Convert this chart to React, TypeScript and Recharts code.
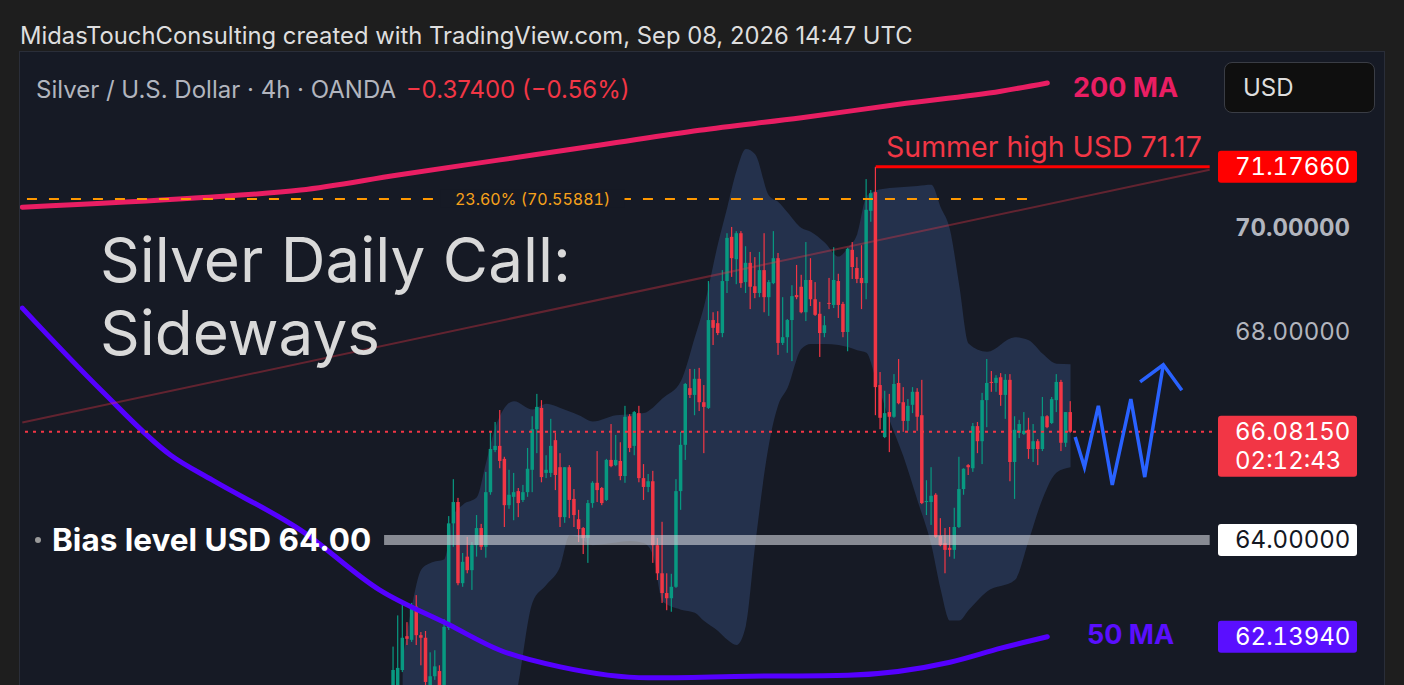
import React from 'react';
import {
  Area,
  Bar,
  ComposedChart,
  Line,
  ReferenceDot,
  ReferenceLine,
  XAxis,
  YAxis,
} from 'recharts';

const FONT = 'Inter, "Noto Sans", sans-serif';
const UP = '#089981';
const DOWN = '#f23645';
const NUM: React.CSSProperties = { fontVariantNumeric: 'tabular-nums' };

// 4h candles, index 0 = first visible candle
const opens = [
  61.02, 61.12, 61.5, 62.15, 62.08, 62.72, 62.17, 62.12, 61.02, 61.38,
  61.48, 61.12, 62.31, 64.32, 64.73, 63.17, 63.68, 63.42, 63.9, 64.23,
  63.87, 64.92, 65.73, 65.81, 65.56, 64.67, 64.83, 64.94, 64.77, 64.92,
  65.35, 66.13, 66.54, 65.29, 65.29, 65.92, 65.4, 64.44, 65.4, 64.79,
  64.4, 64.23, 64.04, 64.71, 65.1, 65.0, 64.77, 65.54, 65.44, 65.52,
  65.23, 66.38, 65.81, 66.44, 65.19, 65.02, 65.13, 63.9, 63.36, 62.98,
  62.88, 63.1, 64.94, 65.83, 66.92, 66.79, 67.1, 66.65, 66.54, 68.23,
  68.17, 67.98, 68.98, 69.83, 69.4, 69.9, 68.96, 69.33, 68.88, 68.75,
  69.19, 68.67, 68.94, 69.42, 67.79, 67.9, 68.23, 68.71, 68.87, 68.38,
  69.0, 68.63, 68.35, 67.98, 68.56, 68.52, 68.98, 68.54, 68.0, 69.58,
  69.23, 69.04, 68.94, 70.33, 70.69, 66.98, 65.98, 66.46, 66.37, 67.02,
  66.65, 66.29, 66.6, 66.85, 66.4, 64.73, 64.73, 64.87, 64.08, 63.94,
  63.85, 63.81, 64.25, 64.98, 65.44, 65.38, 66.19, 65.9, 66.69, 67.04,
  67.02, 67.13, 66.79, 67.08, 65.5, 66.06, 66.04, 66.12, 65.75, 65.9,
  65.75, 66.38, 66.25, 66.69, 67.04, 65.87, 66.46,
];
const highs = [
  61.95, 62.55, 62.81, 62.42, 62.79, 62.94, 62.23, 62.25, 61.84, 61.88,
  61.59, 62.48, 64.46, 65.17, 64.81, 63.75, 64.06, 63.96, 64.48, 64.31,
  65.31, 66.08, 66.27, 66.5, 65.6, 65.35, 65.29, 65.0, 65.06, 65.77,
  66.38, 66.81, 66.69, 65.63, 66.33, 66.06, 65.67, 65.4, 65.44, 64.98,
  64.58, 64.25, 64.77, 65.13, 65.71, 65.02, 65.56, 66.23, 66.02, 65.88,
  66.58, 66.42, 66.48, 66.58, 65.46, 65.27, 65.33, 64.04, 64.35, 63.36,
  63.35, 65.17, 66.08, 67.02, 67.29, 67.29, 67.31, 66.98, 68.98, 68.38,
  68.4, 69.19, 69.9, 70.02, 69.94, 69.94, 69.65, 69.54, 69.44, 69.54,
  69.9, 69.0, 69.94, 69.52, 68.67, 68.25, 68.9, 69.29, 69.1, 69.73,
  69.42, 68.96, 68.58, 68.31, 69.04, 69.63, 69.12, 68.58, 69.62, 69.73,
  69.44, 69.67, 70.94, 70.73, 71.1766, 67.23, 66.87, 66.81, 67.19, 67.48,
  66.94, 66.71, 66.94, 66.92, 67.08, 65.15, 65.4, 64.9, 64.42, 64.23,
  64.25, 64.62, 65.6, 65.38, 65.46, 66.25, 66.27, 66.83, 67.48, 67.25,
  67.17, 67.21, 67.19, 67.19, 66.38, 66.31, 66.46, 66.35, 66.23, 65.94,
  66.75, 66.4, 66.75, 67.19, 67.08, 66.46, 66.67,
];
const lows = [
  60.82, 60.92, 61.46, 61.98, 62.04, 61.98, 61.59, 60.92, 60.92, 61.31,
  60.92, 61.02, 62.27, 63.87, 63.13, 63.1, 63.36, 63.04, 63.68, 63.81,
  63.66, 64.87, 65.69, 65.38, 64.25, 64.6, 64.38, 64.44, 64.73, 64.83,
  64.92, 65.67, 65.11, 65.19, 65.21, 64.96, 64.25, 64.33, 64.42, 64.25,
  63.96, 63.73, 63.56, 64.62, 64.73, 64.67, 64.75, 65.4, 65.42, 65.15,
  65.1, 65.69, 65.63, 65.11, 64.77, 64.92, 63.56, 63.23, 62.79, 62.65,
  62.62, 63.08, 64.58, 65.54, 66.73, 66.4, 66.48, 65.67, 66.52, 67.75,
  67.94, 67.9, 68.75, 69.06, 68.92, 68.85, 68.75, 68.44, 68.65, 68.67,
  68.38, 68.31, 68.92, 67.56, 67.75, 67.6, 67.44, 68.63, 68.36, 68.21,
  68.5, 68.31, 67.52, 67.9, 68.44, 68.46, 68.27, 67.9, 67.63, 69.02,
  68.94, 68.44, 68.63, 70.12, 66.4, 66.13, 65.96, 65.69, 66.35, 66.61,
  66.08, 66.1, 66.44, 66.1, 64.69, 64.48, 64.29, 64.04, 63.88, 63.36,
  63.68, 63.64, 64.23, 64.87, 65.25, 65.31, 65.67, 65.46, 66.17, 66.85,
  66.85, 66.58, 66.33, 65.13, 64.79, 65.96, 66.02, 65.56, 65.5, 65.44,
  65.71, 66.15, 66.23, 66.46, 65.71, 65.79, 66.06,
];
const closes = [
  61.5, 61.54, 62.12, 62.1, 62.7, 62.17, 62.12, 61.27, 61.38, 61.57,
  61.12, 62.33, 64.32, 64.73, 63.17, 63.58, 63.42, 63.9, 64.23, 63.87,
  64.92, 65.75, 65.81, 65.52, 64.67, 64.87, 64.92, 64.71, 64.92, 65.37,
  66.13, 66.56, 65.21, 65.35, 65.81, 65.25, 64.44, 65.4, 64.77, 64.48,
  64.21, 64.04, 64.71, 65.1, 64.96, 64.71, 65.54, 65.42, 65.54, 65.23,
  66.37, 65.77, 66.46, 65.19, 65.02, 65.13, 63.9, 63.36, 62.98, 62.88,
  63.1, 64.94, 65.83, 67.0, 66.79, 67.1, 66.65, 66.56, 68.23, 68.08,
  67.98, 68.98, 69.81, 69.42, 69.9, 68.94, 69.33, 68.87, 68.75, 69.19,
  68.67, 68.96, 69.42, 67.79, 67.9, 68.23, 68.69, 68.67, 68.38, 69.0,
  68.63, 68.33, 67.98, 68.13, 68.54, 69.0, 68.52, 68.0, 69.6, 69.25,
  69.02, 68.94, 70.35, 70.67, 66.94, 66.35, 66.44, 66.37, 67.0, 66.63,
  66.29, 66.58, 66.85, 66.37, 64.71, 64.75, 64.85, 64.06, 63.9, 63.81,
  63.81, 64.25, 64.98, 65.37, 65.4, 66.19, 65.9, 66.69, 67.02, 67.02,
  67.12, 66.79, 67.08, 65.5, 66.12, 66.23, 66.1, 65.75, 65.9, 65.75,
  66.38, 66.17, 66.71, 67.04, 65.87, 66.46, 66.0815,
];

// moving averages (sampled)
const ma200Idx = [-80, -42, -20, 1, 23, 45, 66, 88, 109, 131, 141];
const ma200Val = [70.4, 70.58, 70.73, 71.02, 71.31, 71.6, 71.88, 72.12, 72.38, 72.63, 72.79];
const ma50Idx = [-80, -63, -48, -39, -20, -3, 12, 23, 36, 55, 77, 98, 120, 131, 141];
const ma50Val = [68.46, 66.88, 65.63, 65.15, 64.19, 63.04, 62.37, 61.88, 61.56, 61.35, 61.38, 61.4, 61.65, 61.92, 62.14];

// shaded envelope
const bandIdx = [2, 4, 6, 8, 11, 13, 15, 18, 20, 22, 26, 30, 33, 36, 38, 40, 43, 48, 51, 54, 56, 58, 62, 65, 67, 70, 72, 74, 76, 78, 81, 83, 85, 88, 90, 93, 96, 98, 100, 102, 104, 107, 110, 113, 116, 118, 120, 122, 124, 128, 134, 137, 140, 143, 146];
const bandHi = [61.7, 62.73, 63.43, 63.56, 63.63, 64.48, 64.68, 64.82, 65.49, 66.17, 66.67, 66.51, 66.62, 66.54, 66.47, 66.4, 66.28, 66.4, 66.42, 66.44, 66.55, 66.72, 67.06, 67.9, 68.5, 69.7, 70.4, 71.1, 71.52, 71.42, 70.62, 70.5, 70.3, 70.0, 69.93, 69.72, 69.45, 69.62, 69.88, 70.6, 70.72, 70.77, 70.79, 70.81, 70.83, 70.4, 69.97, 68.9, 67.78, 67.62, 67.9, 67.84, 67.58, 67.39, 67.38];
const bandLo = [60.5, 60.5, 60.5, 60.5, 60.5, 60.5, 60.5, 60.5, 60.5, 60.5, 60.9, 62.8, 63.14, 63.5, 64.09, 64.05, 63.9, 63.95, 63.98, 63.94, 63.7, 62.82, 62.66, 62.6, 62.44, 62.25, 62.08, 61.98, 62.35, 63.9, 65.85, 66.6, 66.93, 67.68, 67.77, 67.77, 67.75, 67.71, 67.65, 67.6, 67.1, 66.3, 65.6, 64.76, 63.9, 63.05, 62.45, 62.45, 62.65, 63.01, 63.23, 64.0, 64.8, 65.3, 65.4];

// projected path
const zzIdx = [147, 149, 152, 155, 159, 162, 166];
const zzVal = [65.98, 65.4, 66.58, 65.06, 66.71, 65.21, 67.37];
const arrowIdx = [161, 166, 170];
const arrowVal = [67.04, 67.37, 66.88];

const yTicks = [68, 70];
const summerHigh = 71.1766;
const lastPrice = 66.0815;
const biasLevel = 64;
const ma50Last = 62.1394;
const fibLevel = 70.55881;

const START = -80;
const END = 176;

const rows: any[] = [];
for (let i = START; i <= END; i++) rows.push({ i });
const at = (i: number) => rows[i - START];
opens.forEach((o, k) => {
  const r = at(k);
  r.o = o;
  r.h = highs[k];
  r.l = lows[k];
  r.c = closes[k];
  r.hl = [lows[k], highs[k]];
});
ma200Idx.forEach((i, k) => (at(i).ma200 = ma200Val[k]));
ma50Idx.forEach((i, k) => (at(i).ma50 = ma50Val[k]));
bandIdx.forEach((i, k) => (at(i).band = [bandLo[k], bandHi[k]]));
zzIdx.forEach((i, k) => (at(i).zz = zzVal[k]));
arrowIdx.forEach((i, k) => (at(i).arrow = arrowVal[k]));

const Candle = (props: any) => {
  const { x, y, width, height, payload } = props;
  if (payload == null || payload.h == null) return null;
  const top = Math.min(y, y + height);
  const h = Math.abs(height);
  const ppu = h / (payload.h - payload.l);
  const py = (v: number) => top + (payload.h - v) * ppu;
  const cx = x + width / 2;
  const col = payload.c >= payload.o ? UP : DOWN;
  const bt = py(Math.max(payload.o, payload.c));
  const bb = py(Math.min(payload.o, payload.c));
  return (
    <g>
      <rect x={cx - 0.6} y={top} width={1.2} height={h} fill={col} />
      <rect x={cx - 1.75} y={bt} width={3.5} height={Math.max(1, bb - bt)} fill={col} />
    </g>
  );
};

const PriceTick = (props: any) => {
  const { x, y, payload } = props;
  return (
    <text
      x={x + 23}
      y={y}
      dominantBaseline="central"
      fill="#b2b5be"
      fontSize={24}
      fontFamily={FONT}
      style={NUM}
      fontWeight={payload.value === 70 ? 700 : 400}
    >
      {payload.value.toFixed(5)}
    </text>
  );
};

function tag(bg: string, fg: string, text: string, sub?: string) {
  return (props: any) => {
    const vb = props.viewBox || {};
    const x0 = vb.x + vb.width + 6;
    const yc = vb.y;
    const h = sub ? 61 : 32;
    return (
      <g>
        <rect x={x0} y={yc - 16} width={139} height={h} rx={3} fill={bg} />
        <text x={x0 + 17} y={yc} dominantBaseline="central" fill={fg} fontSize={24} fontFamily={FONT} style={NUM}>
          {text}
        </text>
        {sub && (
          <text x={x0 + 17} y={yc + 29} dominantBaseline="central" fill={fg} fontSize={24} fontFamily={FONT} style={NUM}>
            {sub}
          </text>
        )}
      </g>
    );
  };
}

const fibLabel = (props: any) => {
  const vb = props.viewBox || {};
  const cx = vb.x + (vb.width || 0) / 2;
  const cy = vb.y + (vb.height || 0) / 2;
  return (
    <g>
      <rect x={cx - 92} y={cy - 9} width={184} height={18} fill="#161a25" />
      <text x={cx} y={cy} textAnchor="middle" dominantBaseline="central" fill="#f7a21b" fontSize={16} fontFamily={FONT} style={NUM}>
        23.60% ({fibLevel.toFixed(5)})
      </text>
    </g>
  );
};

export default function App() {
  return (
    <div
      style={{
        position: 'absolute',
        left: 0,
        top: 0,
        width: 1404,
        height: 685,
        background: '#1e1e1e',
        overflow: 'hidden',
        fontFamily: FONT,
      }}
    >
      <div style={{ position: 'absolute', left: 20, top: 21, fontSize: 23.8, lineHeight: '30px', color: '#dedede', whiteSpace: 'nowrap' }}>
        MidasTouchConsulting created with TradingView.com, Sep 08, 2026 14:47 UTC
      </div>
      <div
        style={{
          position: 'absolute',
          left: 19,
          top: 51,
          width: 1364,
          height: 640,
          background: '#161a25',
          border: '1px solid #2a2e39',
        }}
      />
      <div style={{ position: 'absolute', left: 20, top: 52 }}>
        <ComposedChart width={1364} height={633} data={rows} margin={{ top: 0, right: 0, left: 0, bottom: 0 }}>
          <XAxis dataKey="i" type="category" hide />
          <YAxis
            orientation="right"
            width={172}
            domain={[61.2115, 73.3846]}
            allowDataOverflow
            ticks={yTicks}
            tick={<PriceTick />}
            tickSize={0}
            tickMargin={0}
            axisLine={false}
            tickLine={false}
          />
          <Area
            dataKey="band"
            type="monotone"
            fill="#24314c"
            fillOpacity={1}
            stroke="none"
            connectNulls
            isAnimationActive={false}
          />
          <Line
            dataKey="ma200"
            type="monotone"
            stroke="#e91e63"
            strokeWidth={5}
            strokeLinecap="round"
            dot={false}
            connectNulls
            isAnimationActive={false}
          />
          <Line
            dataKey="ma50"
            type="monotone"
            stroke="#5500ff"
            strokeWidth={5}
            strokeLinecap="round"
            dot={false}
            connectNulls
            isAnimationActive={false}
          />
          <ReferenceLine
            segment={[{ x: START, y: 66.26 }, { x: END, y: 71.12 }]}
            stroke="rgba(242,54,69,0.35)"
            strokeWidth={2}
            ifOverflow="visible"
          />
          <Bar dataKey="hl" barSize={4} shape={<Candle />} isAnimationActive={false} />
          <ReferenceLine
            segment={[{ x: -79, y: fibLevel }, { x: 137, y: fibLevel }]}
            stroke="#ff9800"
            strokeWidth={2}
            strokeDasharray="10 12"
          />
          <ReferenceDot x={30} y={fibLevel} r={0} fill="none" stroke="none" label={{ content: fibLabel }} />
          <ReferenceLine y={lastPrice} stroke="#f23645" strokeWidth={2} strokeDasharray="3 5" />
          <ReferenceLine
            segment={[{ x: 104, y: summerHigh }, { x: END, y: summerHigh }]}
            stroke="#ff0000"
            strokeWidth={3}
          />
          <ReferenceLine
            segment={[{ x: -2, y: biasLevel }, { x: END, y: biasLevel }]}
            stroke="rgba(205,208,215,0.62)"
            strokeWidth={10}
          />
          <Line
            dataKey="zz"
            type="linear"
            stroke="#2962ff"
            strokeWidth={3.5}
            dot={false}
            connectNulls
            isAnimationActive={false}
          />
          <Line
            dataKey="arrow"
            type="linear"
            stroke="#2962ff"
            strokeWidth={3.5}
            dot={false}
            connectNulls
            isAnimationActive={false}
          />
          <ReferenceLine y={summerHigh} stroke="none" label={{ content: tag('#ff0000', '#ffffff', summerHigh.toFixed(5)) }} />
          <ReferenceLine y={lastPrice} stroke="none" label={{ content: tag('#f23645', '#ffffff', lastPrice.toFixed(5), '02:12:43') }} />
          <ReferenceLine y={biasLevel} stroke="none" label={{ content: tag('#ffffff', '#131722', biasLevel.toFixed(5)) }} />
          <ReferenceLine y={ma50Last} stroke="none" label={{ content: tag('#5a0fff', '#ffffff', ma50Last.toFixed(5)) }} />
        </ComposedChart>
      </div>

      <div style={{ position: 'absolute', left: 36, top: 75, fontSize: 24, lineHeight: '30px', color: '#b2b5be', whiteSpace: 'nowrap' }}>
        Silver / U.S. Dollar · 4h · OANDA <span style={{ color: '#f23645', marginLeft: 3 }}>−0.37400 (−0.56%)</span>
      </div>
      <div style={{ position: 'absolute', left: 1073, top: 72, fontSize: 27, lineHeight: '32px', fontWeight: 700, color: '#e91e63' }}>
        200 MA
      </div>
      <div
        style={{
          position: 'absolute',
          left: 1224,
          top: 62,
          width: 131,
          height: 49,
          background: '#0f0f0f',
          border: '1px solid #3a3d45',
          borderRadius: 8,
          fontSize: 24,
          lineHeight: '49px',
          color: '#dedede',
          paddingLeft: 18,
          boxSizing: 'content-box',
        }}
      >
        USD
      </div>
      <div style={{ position: 'absolute', left: 886, top: 130, fontSize: 28.5, lineHeight: '34px', color: '#f23645', whiteSpace: 'nowrap' }}>
        Summer high USD 71.17
      </div>
      <div style={{ position: 'absolute', left: 100, top: 223, fontSize: 62, lineHeight: '73px', color: '#d9d9d9', whiteSpace: 'nowrap' }}>
        Silver Daily Call:
        <br />
        Sideways
      </div>
      <div style={{ position: 'absolute', left: 35, top: 537, width: 6, height: 6, borderRadius: 3, background: '#9a9a9a' }} />
      <div style={{ position: 'absolute', left: 52, top: 521, fontSize: 31.5, lineHeight: '38px', fontWeight: 700, color: '#ffffff', whiteSpace: 'nowrap' }}>
        Bias level USD 64.00
      </div>
      <div style={{ position: 'absolute', left: 1087, top: 619, fontSize: 27, lineHeight: '32px', fontWeight: 700, color: '#5a0fff' }}>
        50 MA
      </div>
    </div>
  );
}
